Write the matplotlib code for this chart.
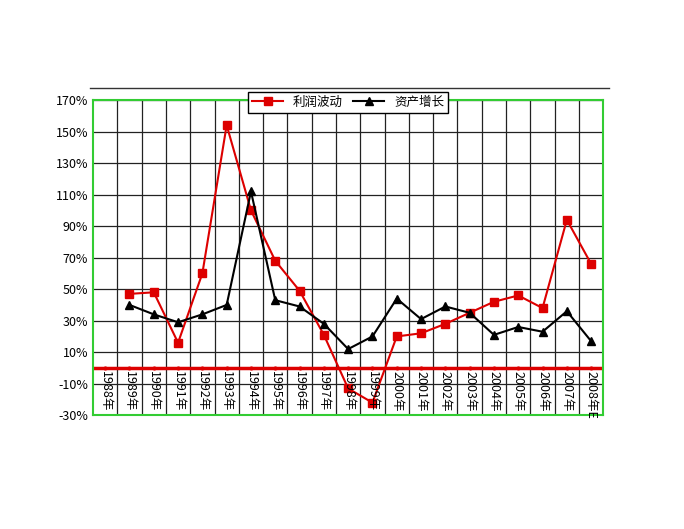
import matplotlib.pyplot as plt
from matplotlib.ticker import FuncFormatter

plt.rcParams['font.family'] = ['Noto Sans CJK SC', 'DejaVu Sans']

years = [f"{y}年" for y in range(1988, 2008)] + ["2008年E"]
profit = [None, 47, 48, 16, 60, 154, 100, 68, 49, 21, -13, -22, 20, 22, 28, 35, 42, 46, 38, 94, 66]
assets = [None, 40, 34, 29, 34, 40, 112, 43, 39, 28, 12, 20, 44, 31, 39, 35, 21, 26, 23, 36, 17]

fig = plt.figure(figsize=(6.84, 5.29), dpi=100)
ax = fig.add_axes([0.136, 0.215, 0.746, 0.596])
x = list(range(len(years)))
px = [i for i, v in zip(x, profit) if v is not None]
ax.plot(px, [v for v in profit if v is not None], color='#dd0000', marker='s',
        markersize=6, linewidth=1.5, label='利润波动', zorder=3)
ax.plot(px, [v for v in assets if v is not None], color='black', marker='^',
        markersize=6, linewidth=1.5, label='资产增长', zorder=3)
ax.axhline(0, color='#dd0000', linewidth=2.5, zorder=2)
ax.plot(x + [len(years) - 0.5], [0] * (len(years) + 1), 'o', color='#dd0000',
        markersize=2, zorder=2)

ax.set_xlim(-0.5, len(years) - 0.5)
ax.set_ylim(-30, 170)
ax.set_yticks(range(-30, 171, 20))
ax.yaxis.set_major_formatter(FuncFormatter(lambda v, p: f"{v:.0f}%"))
ax.set_xticks([i - 0.5 for i in x[1:]])
ax.set_xticklabels([])
ax.tick_params(axis='x', length=0)
ax.tick_params(axis='y', labelsize=9, length=0)
ax.grid(True, color='#222222', linewidth=0.9)
ax.set_axisbelow(True)
for i, lab in enumerate(years):
    ax.text(i, -2, lab, rotation=-90, ha='center', va='top', fontsize=9)
for s in ax.spines.values():
    s.set_color('#33cc33')
    s.set_linewidth(1.5)
fig.add_artist(plt.Line2D([0.132, 0.89], [0.833, 0.833], color='#333333', linewidth=1))
ax.legend(loc='upper center', bbox_to_anchor=(0.5, 1.045), ncol=2, fontsize=9,
          frameon=True, fancybox=False, edgecolor='black', handlelength=2.5,
          borderpad=0.3, columnspacing=0.8, framealpha=1)
fig.savefig('out.png', dpi=100)
